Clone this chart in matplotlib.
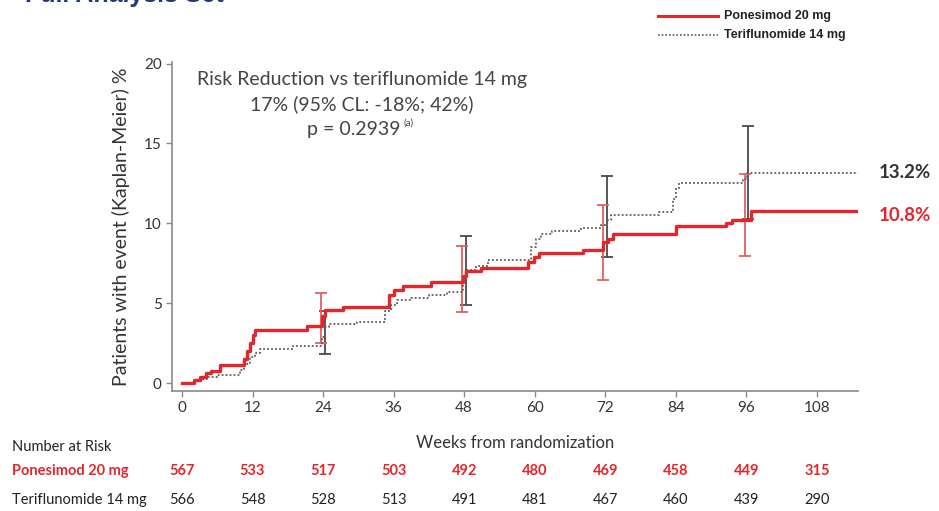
import matplotlib
matplotlib.use("Agg")
import matplotlib.pyplot as plt
import numpy as np

# ---------------- data ----------------
pon_t = [0, 2, 3, 4, 5, 6.5, 10.5, 11, 11.5, 12, 12.5, 21.2, 23.8, 24.3, 27.4, 35.3, 36, 37.6,
         42.4, 47.8, 48.3, 50.9, 58.8, 59.8, 60.8, 68.2, 71.6, 72.4, 73.3, 84.0, 92.5, 93.5, 96.8, 115]
pon_v = [0, 0.2, 0.4, 0.6, 0.75, 1.1, 1.5, 2.0, 2.5, 3.0, 3.3, 3.6, 4.2, 4.55, 4.75, 5.5, 5.8, 6.05,
         6.3, 6.7, 7.0, 7.2, 7.6, 7.9, 8.15, 8.35, 8.8, 9.0, 9.3, 9.8, 10.0, 10.2, 10.8, 10.8]

ter_t = [0, 2.5, 3.5, 4.5, 6, 9.9, 10.5, 11.5, 12.5, 13.3, 18.9, 23.8, 24.3, 25, 29.7, 34.5, 35.5,
         36.5, 39, 42, 45, 47.8, 48.3, 50, 52, 59.4, 60.3, 61.1, 63, 67.9, 71.3, 72.3, 73, 81.2, 83.5,
         84.0, 84.6, 95.4, 96.2, 115]
ter_v = [0, 0.1, 0.25, 0.4, 0.5, 0.8, 1.2, 1.6, 1.9, 2.1, 2.3, 2.9, 3.5, 3.7, 3.85, 4.5, 4.9,
         5.2, 5.35, 5.5, 5.7, 6.3, 7.1, 7.3, 7.7, 8.5, 9.0, 9.35, 9.5, 9.7, 9.9, 10.2, 10.5, 10.7, 11.5,
         12.2, 12.5, 12.8, 13.15, 13.15]

ci_weeks = [24, 48, 72, 96]
pon_ci_est = [4.55, 7.0, 9.0, 10.2]
pon_ci_lo = [2.5, 4.46, 6.44, 7.94]
pon_ci_hi = [5.65, 8.56, 11.17, 13.1]
ter_ci_est = [3.5, 7.1, 10.2, 13.0]
ter_ci_lo = [1.8, 4.9, 7.9, 10.3]
ter_ci_hi = [4.5, 9.19, 12.94, 16.1]

x_ticks = [0, 12, 24, 36, 48, 60, 72, 84, 96, 108]
y_ticks = [0, 5, 10, 15, 20]
pon_risk = [567, 533, 517, 503, 492, 480, 469, 458, 449, 315]
ter_risk = [566, 548, 528, 513, 491, 481, 467, 460, 439, 290]

pon_label = "Ponesimod 20 mg"
ter_label = "Teriflunomide 14 mg"
pon_end = "10.8%"
ter_end = "13.2%"

# ---------------- style ----------------
RED = "#e3262c"
RED_CI = "#e06060"
GRAY = "#5a5a5a"
GRAY_CI = "#4a4a4a"
FONT = ["Lato", "DejaVu Sans"]
plt.rcParams["font.family"] = FONT

W, H = 939, 511
fig = plt.figure(figsize=(W / 100, H / 100), dpi=100)
ax = fig.add_axes([172 / W, 1 - 391 / H, (858 - 172) / W, (391 - 62) / H])

ax.step(ter_t, ter_v, where="post", color=GRAY, lw=1.3, ls=(0, (1, 1.2)), zorder=3)
ax.step(pon_t, pon_v, where="post", color=RED, lw=2.4, zorder=4)

off = 0.3
ter_err = [np.array(ter_ci_est) - np.array(ter_ci_lo), np.array(ter_ci_hi) - np.array(ter_ci_est)]
pon_err = [np.array(pon_ci_est) - np.array(pon_ci_lo), np.array(pon_ci_hi) - np.array(pon_ci_est)]
ax.errorbar(np.array(ci_weeks) + off, ter_ci_est, yerr=ter_err, fmt="none", ecolor=GRAY_CI,
            elinewidth=1.3, capsize=4, capthick=1.3, zorder=2)
ax.errorbar(np.array(ci_weeks) - off, pon_ci_est, yerr=pon_err, fmt="none", ecolor=RED_CI,
            elinewidth=1.3, capsize=4, capthick=1.3, zorder=2)

ax.set_xlim(-1.7, 115)
ax.set_ylim(-0.5, 20.1)
ax.set_xticks(x_ticks)
ax.set_yticks(y_ticks)
for s in ["top", "right"]:
    ax.spines[s].set_visible(False)
for s in ["left", "bottom"]:
    ax.spines[s].set_color("#8a8a8a")
    ax.spines[s].set_linewidth(1.2)
ax.tick_params(colors="#8a8a8a", labelcolor="#333333", labelsize=11, length=4, width=1)

ax.set_ylabel("Patients with event (Kaplan-Meier) %", fontsize=14, color="#333333", labelpad=10)
ax.set_xlabel("Weeks from randomization", fontsize=12, color="#333333", labelpad=14)

# annotation block
cx = 362 / W
fig.text(cx, 1 - 80 / H, "Risk Reduction vs teriflunomide 14 mg", ha="center", va="center",
         fontsize=14, color="#444444")
fig.text(cx, 1 - 104 / H, "17% (95% CL: -18%; 42%)", ha="center", va="center",
         fontsize=14, color="#444444")
fig.text(cx - 8 / W, 1 - 129 / H, "p = 0.2939", ha="center", va="center",
         fontsize=14, color="#444444")
fig.text(404 / W, 1 - 123 / H, "(a)", fontsize=7, color="#444444", va="center", ha="left")

ax.text(1.03, 13.15, ter_end, transform=ax.get_yaxis_transform(), fontsize=13.5,
        fontweight="bold", color="#333333", va="center", ha="left")
ax.text(1.03, 10.8 - 0.3, pon_end, transform=ax.get_yaxis_transform(), fontsize=13.5,
        fontweight="bold", color=RED, va="center", ha="left")

# legend
fig.lines.append(plt.Line2D([658 / W, 718 / W], [1 - 16 / H, 1 - 16 / H], color=RED, lw=2.2,
                            transform=fig.transFigure))
fig.lines.append(plt.Line2D([658 / W, 718 / W], [1 - 35 / H, 1 - 35 / H], color=GRAY, lw=1.2,
                            ls=(0, (1, 1.2)), transform=fig.transFigure))
fig.text(724 / W, 1 - 16 / H, pon_label, fontsize=9, fontweight="bold", color="#222222",
         va="center", family=["Liberation Sans", "DejaVu Sans"])
fig.text(724 / W, 1 - 35 / H, ter_label, fontsize=9, fontweight="bold", color="#222222",
         va="center", family=["Liberation Sans", "DejaVu Sans"])

# partially clipped title (as in the reference)
fig.text(25 / W, 1 + 5 / H, "Full Analysis Set", fontsize=18, fontweight="bold", color="#1f3a78",
         va="center", ha="left", family=["Liberation Sans", "DejaVu Sans"])

# risk table
fig.text(12 / W, 1 - 447 / H, "Number at Risk", fontsize=10.5, color="#222222", va="center")
fig.text(12 / W, 1 - 471 / H, pon_label, fontsize=10.5, color=RED, fontweight="bold", va="center")
fig.text(12 / W, 1 - 500 / H, ter_label, fontsize=10.5, color="#222222", va="center")
for x, a, b in zip(x_ticks, pon_risk, ter_risk):
    xf = ax.transData.transform((x, 0))[0] / W
    fig.text(xf, 1 - 471 / H, str(a), fontsize=10.5, color=RED, fontweight="bold", ha="center", va="center")
    fig.text(xf, 1 - 500 / H, str(b), fontsize=10.5, color="#222222", ha="center", va="center")

fig.savefig("out.png", dpi=100)
